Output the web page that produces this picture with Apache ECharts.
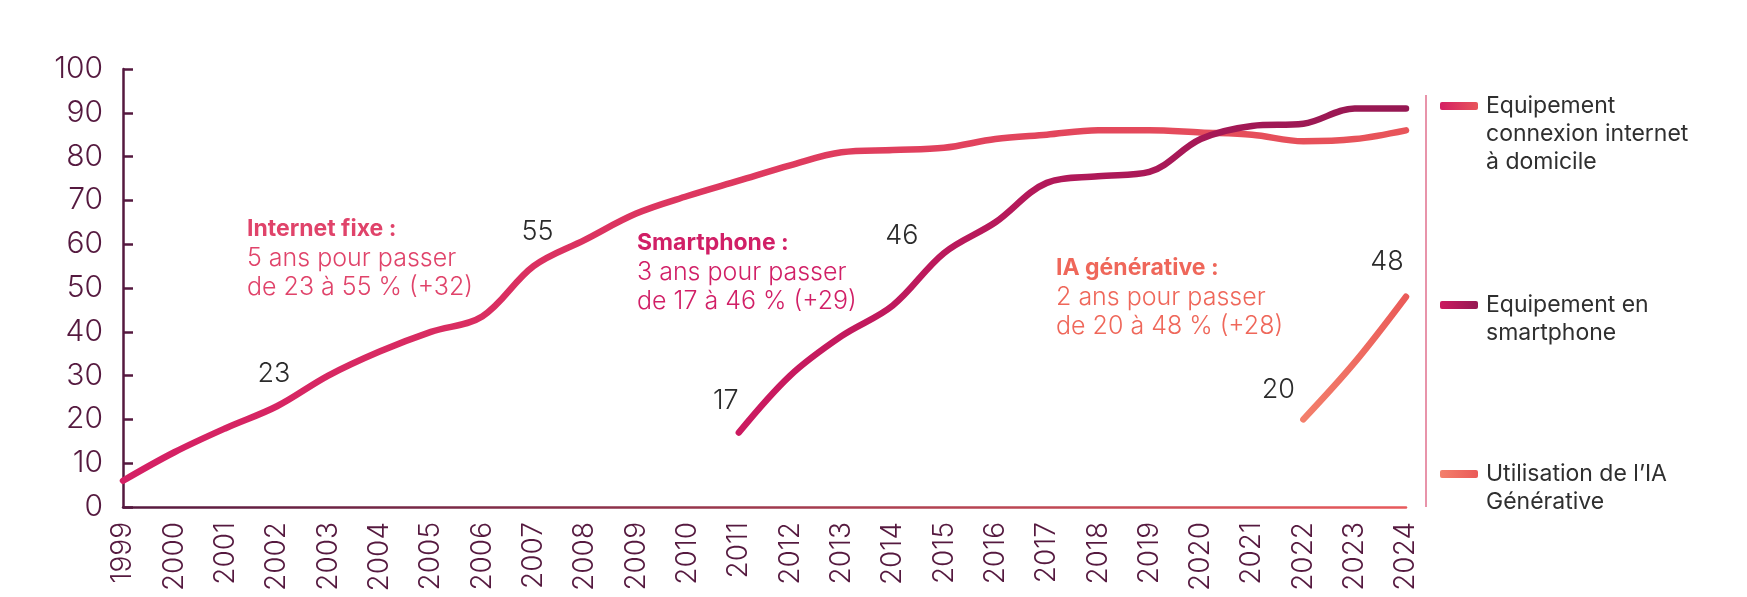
<!DOCTYPE html>
<html>
<head>
<meta charset="utf-8">
<script src="https://cdn.jsdelivr.net/npm/echarts@6/dist/echarts.min.js"></script>
<style>
  html, body { margin: 0; padding: 0; background: #fff; }
  #chart { width: 1747px; height: 597px; }
</style>
</head>
<body>
<div id="chart"></div>
<script>
const years = ['1999', '2000', '2001', '2002', '2003', '2004', '2005', '2006', '2007', '2008', '2009', '2010', '2011',
    '2012', '2013', '2014', '2015', '2016', '2017', '2018', '2019', '2020', '2021', '2022', '2023', '2024']
const internet = [6, 12.5, 18, 23, 30, 35.5, 40, 43.5, 55, 61, 67, 71, 74.5, 78, 81, 81.5, 82, 84, 85, 86, 86, 85.5, 85, 83.5, 84, 86]
const smartphone = [null, null, null, null, null, null, null, null, null, null, null, null,
    17, 30, 39, 46, 58, 65, 74, 75.5, 76.5, 84, 87, 87.5, 91, 91]
const iaGen = [null, null, null, null, null, null, null, null, null, null, null, null, null, null, null, null,
    null, null, null, null, null, null, null, 20, 33, 48]
const yTicks = [0, 10, 20, 30, 40, 50, 60, 70, 80, 90, 100]
const seriesNames = ['Equipement\nconnexion internet\nà domicile', 'Equipement en\nsmartphone', 'Utilisation de l’IA\nGénérative']

// points qui portent une étiquette : [index, decalage]
const labelsInternet = [[3, [-3, -18]], [8, [4, -20]]]
const labelsSmart = [[12, [-13, -18]], [15, [9, -56]]]
const labelsIa = [[23, [-25, -16]], [25, [-19, -21]]]

const font = 'Inter, "Open Sans", sans-serif'
const axisColor = '#55193f'

const grad = (a, b) => new echarts.graphic.LinearGradient(0, 0, 1, 0, [
    {offset: 0, color: a},
    {offset: 1, color: b}
])

const withLabels = (values, marks) => values.map((v, i) => {
    const m = marks.find(x => x[0] === i)
    if (!m) return v
    return {
        value: v,
        label: {
            show: true,
            position: 'top',
            distance: 0,
            offset: m[1],
            formatter: String(v),
            color: '#2b2b2b',
            fontSize: 27,
            fontWeight: 300,
            fontFamily: font
        }
    }
})

const lineSeries = (name, values, marks, c1, c2) => ({
    name: name,
    type: 'line',
    data: withLabels(values, marks),
    smooth: 0.35,
    symbol: 'circle',
    symbolSize: 1,
    showSymbol: true,
    showAllSymbol: true,
    connectNulls: false,
    silent: true,
    lineStyle: {width: 6.5, color: grad(c1, c2), cap: 'round', join: 'round'},
    itemStyle: {color: 'rgba(0,0,0,0)'},
    label: {show: false},
    emphasis: {disabled: true},
    z: 3
})

const legendItem = (name, top, c1, c2, lines) => ({
    orient: 'vertical',
    left: 1435,
    top: top,
    itemWidth: 38,
    itemHeight: 8,
    icon: 'roundRect',
    selectedMode: false,
    data: [{name: name, itemStyle: {color: grad(c1, c2), opacity: 1}}],
    formatter: n => '\n'.repeat(lines - 1) + n,
    textStyle: {
        color: '#2f2f2f',
        fontSize: 23,
        lineHeight: 28,
        fontFamily: font,
        padding: [0, 0, 0, 3]
    }
})

const note = (x, y, title, l1, l2, color) => ({
    type: 'text',
    left: x,
    top: y,
    silent: true,
    style: {
        text: '{b|' + title + '}\n{n|' + l1 + '}\n{n|' + l2 + '}',
        rich: {
            b: {fontSize: 23, fontWeight: 'bold', fill: color, fontFamily: font, lineHeight: 29},
            n: {fontSize: 25, fontWeight: 300, fill: color, fontFamily: font, lineHeight: 29}
        }
    }
})

const chart = echarts.init(document.getElementById('chart'))
const option = {
    animation: false,
    grid: {left: 123, right: 341, top: 69, bottom: 90},
    xAxis: {
        type: 'category',
        data: years,
        boundaryGap: false,
        axisLine: {lineStyle: {color: grad('#55193f', '#e85a5c'), width: 2.5}},
        axisTick: {show: false},
        axisLabel: {
            rotate: 90,
            interval: 0,
            margin: 15,
            color: axisColor,
            fontSize: 28,
            fontWeight: 300,
            fontFamily: font
        },
        splitLine: {show: false}
    },
    yAxis: {
        type: 'value',
        min: yTicks[0],
        max: yTicks[yTicks.length - 1],
        interval: 10,
        axisLine: {show: true, lineStyle: {color: axisColor, width: 2.5}},
        axisTick: {show: true, inside: true, length: 10, lineStyle: {color: axisColor, width: 2.5}},
        axisLabel: {
            margin: 20,
            color: axisColor,
            fontSize: 30,
            fontWeight: 300,
            fontFamily: font
        },
        splitLine: {show: false}
    },
    legend: [
        legendItem(seriesNames[0], 31, '#d41f64', '#e8555a', 3),
        legendItem(seriesNames[1], 258, '#cc1a60', '#951852', 2),
        legendItem(seriesNames[2], 427, '#f3806c', '#ea5a58', 2)
    ],
    graphic: [
        {
            type: 'line',
            silent: true,
            shape: {x1: 1426, y1: 95, x2: 1426, y2: 507},
            style: {stroke: '#e0708e', lineWidth: 1.5}
        },
        note(247, 218, 'Internet fixe :', '5 ans pour passer', 'de 23 à 55 % (+32)', '#e0436a'),
        note(637, 232, 'Smartphone :', '3 ans pour passer', 'de 17 à 46 % (+29)', '#d11f66'),
        note(1056, 257, 'IA générative :', '2 ans pour passer', 'de 20 à 48 % (+28)', '#ef675a')
    ],
    series: [
        lineSeries(seriesNames[0], internet, labelsInternet, '#d41f64', '#e8555a'),
        lineSeries(seriesNames[1], smartphone, labelsSmart, '#cc1a60', '#951852'),
        lineSeries(seriesNames[2], iaGen, labelsIa, '#f3806c', '#ea5a58')
    ]
}
chart.setOption(option)
</script>
</body>
</html>
